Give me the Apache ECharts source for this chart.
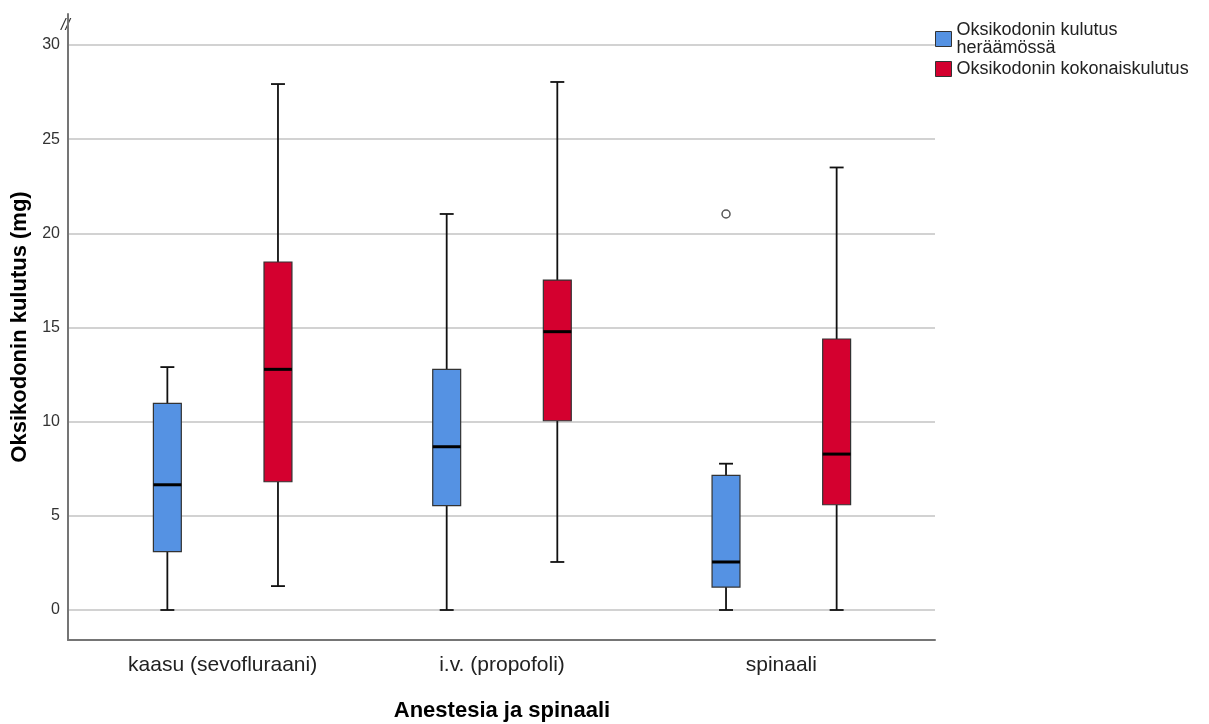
<!DOCTYPE html>
<html>
<head>
<meta charset="utf-8">
<script src="https://cdn.jsdelivr.net/npm/echarts@6/dist/echarts.min.js"></script>
<style>
  html, body { margin: 0; background: #fff; }
  #chart { width: 1209px; height: 724px; }
</style>
</head>
<body>
<div id="chart"></div>
<script>
const categories = ['kaasu (sevofluraani)', 'i.v. (propofoli)', 'spinaali']
const seriesNames = ['Oksikodonin kulutus heräämössä', 'Oksikodonin kokonaiskulutus']
const legendLabels = ['Oksikodonin kulutus\nheräämössä', 'Oksikodonin kokonaiskulutus']
// [min, Q1, median, Q3, max] per category
const heraamossa = [
  [0, 3.1, 6.65, 10.97, 12.9],
  [0, 5.54, 8.67, 12.78, 21.03],
  [0, 1.22, 2.55, 7.15, 7.77]
]
const kokonais = [
  [1.27, 6.81, 12.78, 18.48, 27.93],
  [2.55, 10.05, 14.78, 17.52, 28.04],
  [0, 5.59, 8.28, 14.39, 23.5]
]
// [category index, value]
const heraamossaOutliers = [[2, 21.03]]
const yMin = -1.593
const yMax = 31.65

const FONT = '"Liberation Sans", Arial, sans-serif'
const colors = ['#5592E3', '#D4002F']

const chart = echarts.init(document.getElementById('chart'))

// draws one box + whiskers, shifted inside the category band
const boxRenderer = (shift, color) => (params, api) => {
  const c = api.value(0)
  const band = api.size([1, 0])[0]
  const x = api.coord([c, 0])[0] + band * shift
  const w = band * 0.1
  const cap = w / 4
  const [pMin, pQ1, pMed, pQ3, pMax] = [1, 2, 3, 4, 5].map(i => api.coord([c, api.value(i)])[1])
  const whisker = { stroke: '#111', lineWidth: 1.8 }
  return {
    type: 'group',
    children: [
      { type: 'line', shape: { x1: x, y1: pQ3, x2: x, y2: pMax }, style: whisker },
      { type: 'line', shape: { x1: x, y1: pQ1, x2: x, y2: pMin }, style: whisker },
      { type: 'line', shape: { x1: x - cap, y1: pMax, x2: x + cap, y2: pMax }, style: whisker },
      { type: 'line', shape: { x1: x - cap, y1: pMin, x2: x + cap, y2: pMin }, style: whisker },
      { type: 'rect', shape: { x: x - w / 2, y: pQ3, width: w, height: pQ1 - pQ3 },
        style: { fill: color, stroke: '#333', lineWidth: 1.2 } },
      { type: 'line', shape: { x1: x - w / 2, y1: pMed, x2: x + w / 2, y2: pMed },
        style: { stroke: '#000', lineWidth: 3 } }
    ]
  }
}

const outlierRenderer = shift => (params, api) => {
  const c = api.value(0)
  const band = api.size([1, 0])[0]
  const p = api.coord([c, api.value(1)])
  return {
    type: 'circle',
    shape: { cx: p[0] + band * shift, cy: p[1], r: 4 },
    style: { fill: '#fff', stroke: '#555', lineWidth: 1.5 }
  }
}

const option = {
  backgroundColor: '#fff',
  animation: false,
  textStyle: { fontFamily: FONT },
  legend: {
    orient: 'vertical',
    left: 935,
    top: 21,
    padding: 0,
    itemWidth: 16,
    itemHeight: 15,
    itemGap: 3,
    icon: 'rect',
    data: seriesNames,
    itemStyle: { borderColor: '#333', borderWidth: 1 },
    textStyle: { fontSize: 18, lineHeight: 18, color: '#222', fontFamily: FONT },
    formatter: name => legendLabels[seriesNames.indexOf(name)]
  },
  grid: [
    { left: 68, right: 274, top: 14, bottom: 84, outerBoundsMode: 'none' },
    { left: 83, right: 288, top: 14, bottom: 84, outerBoundsMode: 'none' }
  ],
  xAxis: [
    {
      gridIndex: 0, type: 'value', min: 0, max: 1,
      axisLine: { onZero: false, lineStyle: { color: '#757575', width: 2 } },
      axisTick: { show: false }, axisLabel: { show: false }, splitLine: { show: false }
    },
    {
      gridIndex: 1, type: 'category', data: categories,
      axisLine: { show: false, onZero: false }, axisTick: { show: false },
      axisLabel: { color: '#222', fontSize: 21, margin: 15, fontFamily: FONT },
      name: 'Anestesia ja spinaali',
      nameLocation: 'middle',
      nameGap: 60,
      nameTextStyle: { color: '#000', fontSize: 22, fontWeight: 'bold', fontFamily: FONT }
    }
  ],
  yAxis: [
    {
      gridIndex: 0, type: 'value', min: yMin, max: yMax,
      minInterval: 5, maxInterval: 5,
      axisLine: { show: true, lineStyle: { color: '#757575', width: 2 } },
      axisTick: { show: false },
      axisLabel: { color: '#333', fontSize: 16, margin: 8, showMinLabel: false, showMaxLabel: false, fontFamily: FONT },
      splitLine: { show: true, showMinLine: false, showMaxLine: false, lineStyle: { color: '#d2d2d2', width: 2 } },
      name: 'Oksikodonin kulutus (mg)',
      nameLocation: 'middle',
      nameGap: 34,
      nameTextStyle: { color: '#000', fontSize: 22, fontWeight: 'bold', fontFamily: FONT }
    },
    {
      gridIndex: 1, type: 'value', min: yMin, max: yMax, show: false
    }
  ],
  graphic: [
    { type: 'text', left: 61, top: 18, style: { text: '//', fill: '#333', font: 'italic 16px ' + FONT } }
  ],
  series: [
    {
      name: seriesNames[0], type: 'custom', xAxisIndex: 1, yAxisIndex: 1,
      itemStyle: { color: colors[0] },
      encode: { x: 0, y: [1, 2, 3, 4, 5] },
      data: heraamossa.map((s, i) => [i, ...s]),
      renderItem: boxRenderer(-0.198, colors[0])
    },
    {
      name: seriesNames[1], type: 'custom', xAxisIndex: 1, yAxisIndex: 1,
      itemStyle: { color: colors[1] },
      encode: { x: 0, y: [1, 2, 3, 4, 5] },
      data: kokonais.map((s, i) => [i, ...s]),
      renderItem: boxRenderer(0.198, colors[1])
    },
    {
      name: 'outliers', type: 'custom', xAxisIndex: 1, yAxisIndex: 1,
      encode: { x: 0, y: 1 },
      data: heraamossaOutliers,
      renderItem: outlierRenderer(-0.198)
    }
  ]
}

chart.setOption(option)
</script>
</body>
</html>
